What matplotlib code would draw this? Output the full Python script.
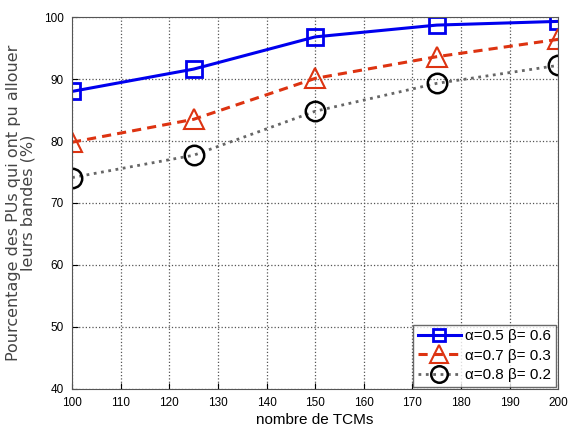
import matplotlib
matplotlib.use("Agg")
import matplotlib.pyplot as plt

x_vals = [100, 125, 150, 175, 200]
s1 = [88.0, 91.6, 96.8, 98.7, 99.3]
s2 = [79.8, 83.5, 90.1, 93.6, 96.4]
s3 = [74.1, 77.7, 84.8, 89.3, 92.2]
labels = ["α=0.5 β= 0.6", "α=0.7 β= 0.3", "α=0.8 β= 0.2"]
xticks = list(range(100, 201, 10))
yticks = list(range(40, 101, 10))

tick_font = "Liberation Sans"

fig = plt.figure(figsize=(5.72, 4.37), dpi=100)
ax = fig.add_axes([0.126, 0.110, 0.850, 0.851])

ax.plot(x_vals, s1, '-', color='#0000ee', lw=2.2, marker='s', ms=11,
        mfc='none', mec='#0000ee', mew=2, label=labels[0])
ax.plot(x_vals, s2, '--', color='#dd3311', lw=2.2, marker='^', ms=15,
        mfc='none', mec='#dd3311', mew=1.5, label=labels[1], dashes=(3, 2))
ax.plot(x_vals, s3, ':', color='#666666', lw=2, marker='o', ms=14,
        mfc='none', mec='black', mew=1.8, label=labels[2])

ax.set_xlim(100, 200)
ax.set_ylim(40, 100)
ax.set_xticks(xticks)
ax.set_yticks(yticks)
ax.tick_params(direction='in', length=4, labelsize=8.5, pad=6)
for lab in ax.get_xticklabels() + ax.get_yticklabels():
    lab.set_family(tick_font)
ax.grid(True, linestyle=':', color='#555555', lw=0.9)
for sp in ax.spines.values():
    sp.set_color('#555555')

ax.set_xlabel("nombre de TCMs", fontsize=11, family=tick_font, labelpad=3)
ax.set_ylabel("Pourcentage des PUs qui ont pu allouer\nleurs bandes (%)",
              fontsize=11.5, color='#444444', linespacing=1.0, labelpad=6,
              family='DejaVu Sans')

leg = ax.legend(loc='lower right', frameon=True, fancybox=False,
                edgecolor='#444444', borderpad=0.3, labelspacing=0.35,
                handlelength=2.8, handletextpad=0.3, borderaxespad=0.15,
                prop={'family': tick_font, 'size': 11}, markerscale=0.85)
leg.get_frame().set_linewidth(1.0)

fig.savefig("out.png", dpi=100)
